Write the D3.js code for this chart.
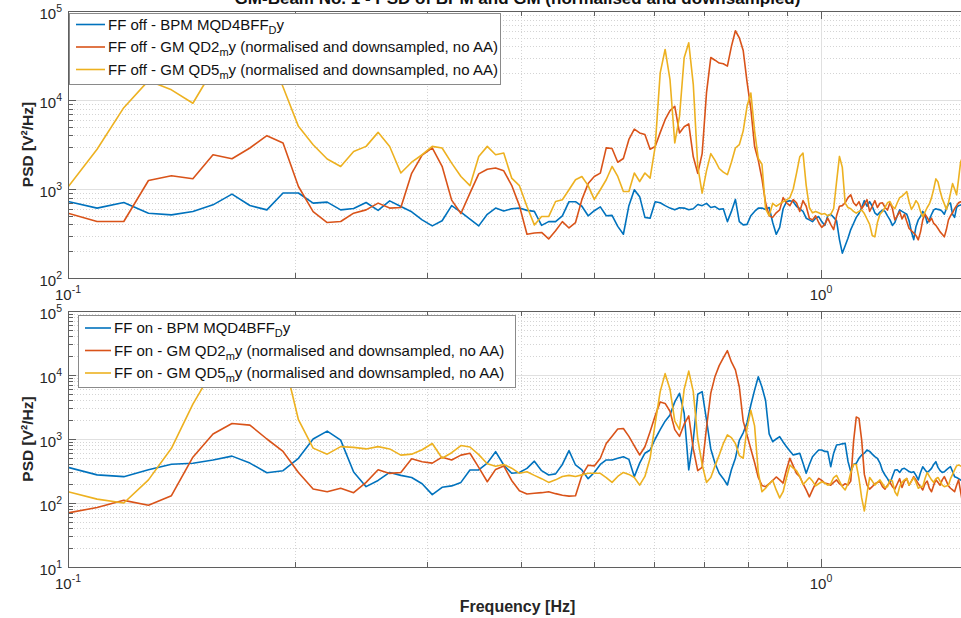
<!DOCTYPE html>
<html>
<head>
<meta charset="utf-8">
<script src="https://cdn.jsdelivr.net/npm/d3@7"></script>
<style>
  html, body { margin: 0; padding: 0; background: #fff; }
  svg { display: block; font-family: "Liberation Sans", Arial, Helvetica, sans-serif; }
</style>
</head>
<body>
<svg id="chart" width="961" height="618"></svg>
<script>
// PSD frequency bins [Hz]
const freqs = [
  0.1, 0.1093, 0.1186, 0.1279, 0.1372, 0.1465, 0.1558, 0.1651, 0.1744, 0.1837,
  0.193, 0.2023, 0.2116, 0.2209, 0.2302, 0.2395, 0.2488, 0.2581, 0.2674, 0.2767,
  0.286, 0.2953, 0.3046, 0.3139, 0.3232, 0.3325, 0.3418, 0.3511, 0.3604, 0.3697,
  0.379, 0.3883, 0.3976, 0.4069, 0.4162, 0.4255, 0.4348, 0.4441, 0.4534, 0.4627,
  0.472, 0.4813, 0.4906, 0.4999, 0.5092, 0.5185, 0.5278, 0.5371, 0.5464, 0.5557,
  0.565, 0.5743, 0.5836, 0.5929, 0.6022, 0.6115, 0.6208, 0.6301, 0.6394, 0.6487,
  0.658, 0.6673, 0.6766, 0.6859, 0.6952, 0.7045, 0.7138, 0.7231, 0.7324, 0.7417,
  0.751, 0.7603, 0.7696, 0.7789, 0.7882, 0.7975, 0.8068, 0.8161, 0.8254, 0.8347,
  0.844, 0.8533, 0.8626, 0.8719, 0.8812, 0.8905, 0.8998, 0.9091, 0.9184, 0.9277,
  0.937, 0.9463, 0.9556, 0.9649, 0.9742, 0.9835, 0.9928, 1.0021, 1.0114, 1.0207,
  1.03, 1.0393, 1.0486, 1.0579, 1.0672, 1.0765, 1.0858, 1.0951, 1.1044, 1.1137,
  1.123, 1.1323, 1.1416, 1.1509, 1.1602, 1.1695, 1.1788, 1.1881, 1.1974, 1.2067,
  1.216, 1.2253, 1.2346, 1.2439, 1.2532, 1.2625, 1.2718, 1.2811, 1.2904, 1.2997,
  1.309, 1.3183, 1.3276, 1.3369, 1.3462, 1.3555, 1.3648, 1.3741, 1.3834, 1.3927,
  1.402, 1.4113, 1.4206, 1.4299, 1.4392, 1.4485, 1.4578, 1.4671, 1.4764, 1.4857,
  1.495, 1.5043, 1.5136, 1.5229, 1.5322, 1.5415
];

// FF off
const offBPM = [
  723, 610, 705, 535, 512, 558, 664, 877, 652, 583,
  901, 901, 694, 712, 583, 603, 705, 574, 736, 635,
  555, 450, 385, 440, 650, 550, 460, 385, 520, 610,
  565, 600, 610, 575, 560, 390, 430, 430, 500, 720,
  720, 640, 500, 570, 630, 500, 505, 380, 310, 650,
  980, 820, 480, 470, 720, 700, 650, 610, 583, 615,
  610, 585, 600, 670, 650, 690, 620, 635, 590, 600,
  430, 560, 764, 430, 395, 400, 500, 560, 610, 610,
  590, 620, 420, 310, 370, 600, 720, 740, 720, 640,
  600, 560, 470, 450, 430, 470, 490, 430, 390, 500,
  520, 480, 440, 270, 190, 230, 280, 350, 410, 480,
  530, 620, 740, 640, 720, 640, 540, 510, 550, 580,
  560, 500, 450, 390, 420, 500, 583, 560, 540, 520,
  440, 330, 270, 380, 450, 490, 560, 520, 413, 450,
  520, 583, 600, 590, 583, 560, 520, 600, 680, 694,
  520, 480, 620, 650, 660, 670
];
const offQD2 = [
  535, 431, 431, 1246, 1408, 1303, 2427, 2188, 2888, 3974,
  3289, 1067, 558, 420, 431, 535, 583, 694, 610, 620,
  1500, 2400, 2900, 1800, 750, 530, 900, 1480, 1670, 1720,
  1600, 1100, 650, 310, 320, 325, 275, 340, 430, 365,
  420, 760, 1150, 1380, 1510, 2900, 2850, 2000, 2200, 3600,
  4700, 4270, 4100, 2800, 3000, 4300, 6000, 7600, 8500, 4270,
  5000, 5400, 2300, 1500, 2500, 12000, 30000, 28000, 26000, 25500,
  24000, 40000, 60000, 50000, 36000, 16000, 8000, 3000, 2100, 1300,
  700, 500, 480, 540, 583, 800, 700, 650, 760, 700,
  560, 740, 640, 470, 450, 500, 420, 370, 400, 470,
  400, 350, 500, 640, 650, 700, 800, 860, 700, 650,
  720, 600, 670, 760, 560, 640, 740, 620, 690, 700,
  620, 580, 700, 600, 450, 500, 560, 460, 520, 430,
  360, 340, 320, 300, 268, 330, 450, 520, 480, 430,
  470, 410, 390, 360, 330, 310, 290, 350, 450, 500,
  540, 600, 650, 700, 720, 700
];
const offQD5 = [
  1050, 2800, 8200, 16500, 13000, 9200, 22000, 45000, 60000, 40000,
  14000, 5058, 3145, 2173, 1792, 2644, 3013, 4329, 3000, 1511,
  2000, 2427, 3013, 2888, 1954, 1383, 1090, 2323, 3013, 2427,
  2535, 1326, 1090, 635, 395, 490, 490, 723, 756, 980,
  1270, 1383, 1090, 764, 980, 1270, 1792, 1383, 936, 936,
  1511, 1213, 1511, 1326, 3000, 20180, 36980, 16980, 3289, 6546,
  29790, 43950, 15000, 1800, 900, 1600, 2500, 2100, 1700, 1550,
  1450, 2000, 2888, 3145, 4500, 8500, 12000, 4500, 2200, 1900,
  600, 500, 690, 640, 680, 720, 756, 800, 1000, 1500,
  2300, 2535, 1100, 620, 540, 560, 540, 520, 530, 500,
  520, 600, 1200, 2323, 1750, 694, 620, 600, 560, 535,
  560, 580, 530, 460, 400, 300, 290, 420, 520, 560,
  620, 700, 723, 640, 600, 700, 800, 830, 880, 936,
  720, 590, 650, 740, 680, 560, 490, 550, 620, 680,
  800, 1000, 1300, 1200, 950, 780, 680, 590, 700, 900,
  1150, 1000, 860, 1300, 2000, 2300
];

// FF on
const onBPM = [
  361, 275, 258, 330, 404, 418, 470, 540, 420, 297,
  320, 500, 1000, 1330, 960, 305, 180, 225, 300, 270,
  250, 200, 135, 176, 185, 210, 328, 328, 420, 634,
  393, 291, 300, 348, 450, 320, 274, 285, 400, 657,
  393, 328, 240, 300, 400, 470, 470, 499, 529, 480,
  258, 420, 600, 673, 1000, 1400, 1900, 2371, 3800, 5176,
  2522, 328, 964, 5000, 5500, 1981, 700, 417, 291, 240,
  191, 330, 500, 950, 1250, 1800, 3400, 5800, 9400, 6500,
  4000, 1200, 907, 1000, 1086, 900, 758, 650, 562, 580,
  598, 420, 291, 400, 529, 600, 673, 673, 640, 634,
  369, 600, 806, 820, 840, 857, 450, 308, 400, 417,
  500, 562, 600, 673, 640, 580, 530, 499, 420, 320,
  274, 240, 203, 260, 328, 330, 300, 340, 348, 330,
  310, 300, 308, 270, 229, 300, 369, 330, 300, 320,
  348, 400, 442, 360, 320, 300, 308, 330, 350, 369,
  310, 258, 250, 240, 229, 225
];
const onQD2 = [
  70, 85, 110, 92, 130, 520, 1200, 1750, 1650, 1000,
  640, 300, 165, 150, 170, 145, 210, 330, 290, 300,
  490, 440, 420, 520, 470, 560, 598, 360, 215, 335,
  380, 225, 155, 138, 142, 145, 150, 140, 132, 128,
  130, 270, 390, 380, 500, 850, 1100, 1430, 1460, 1100,
  780, 562, 758, 1300, 2300, 3800, 3600, 2710, 1400, 1100,
  1700, 2300, 700, 320, 360, 1500, 5200, 9500, 14000, 18500,
  24000, 16000, 12000, 6500, 1900, 1150, 700, 430, 250, 188,
  180, 200, 225, 255, 230, 205, 330, 499, 380, 290,
  258, 200, 160, 125, 160, 203, 243, 225, 205, 200,
  190, 210, 229, 200, 185, 200, 190, 220, 900, 2200,
  2100, 960, 280, 190, 165, 180, 200, 210, 215, 180,
  165, 190, 210, 180, 165, 200, 240, 175, 220, 240,
  190, 220, 258, 230, 200, 180, 160, 200, 220, 170,
  150, 190, 230, 210, 190, 230, 258, 220, 185, 170,
  160, 150, 190, 230, 150, 100
];
const onQD5 = [
  150, 115, 100, 230, 715, 3500, 12000, 40000, 60000, 50000,
  20000, 2000, 720, 580, 760, 740, 700, 760, 700, 560,
  580, 680, 850, 500, 610, 790, 750, 570, 410, 375,
  400, 350, 291, 308, 270, 240, 210, 230, 260, 270,
  260, 275, 291, 291, 291, 250, 210, 260, 300, 280,
  250, 190, 260, 500, 1760, 5500, 10500, 6000, 1900, 1400,
  6000, 11500, 5500, 1000, 400, 210, 250, 380, 560, 850,
  1160, 1050, 850, 550, 500, 1500, 2800, 1600, 300, 150,
  170, 200, 225, 160, 120, 150, 250, 393, 350, 320,
  260, 195, 220, 250, 220, 185, 200, 215, 205, 190,
  200, 250, 270, 220, 180, 160, 200, 300, 400, 400,
  240, 120, 75, 140, 250, 220, 190, 210, 230, 200,
  175, 180, 230, 220, 150, 130, 180, 210, 230, 243,
  190, 220, 250, 210, 170, 180, 180, 240, 300, 260,
  230, 210, 240, 250, 220, 190, 180, 185, 190, 240,
  280, 330, 380, 393, 380, 370
];

// Legend entries: [text, subscript, text]
const offLabels = [
  ["FF off - BPM MQD4BFF", "D", "y"],
  ["FF off - GM QD2", "m", "y (normalised and downsampled, no AA)"],
  ["FF off - GM QD5", "m", "y (normalised and downsampled, no AA)"]
];
const onLabels = [
  ["FF on - BPM MQD4BFF", "D", "y"],
  ["FF on - GM QD2", "m", "y (normalised and downsampled, no AA)"],
  ["FF on - GM QD5", "m", "y (normalised and downsampled, no AA)"]
];

const titleText = "GM-Beam No. 1 - PSD of BPM and GM (normalised and downsampled)";
const yLabelText = "PSD [V\u00B2/Hz]";
const xLabelText = "Frequency [Hz]";
const xDomain = [0.1, 1.5625];
const xMajorExps = [-1, 0];
const topYExps = [2, 3, 4, 5];
const bottomYExps = [1, 2, 3, 4, 5];

const colors = ["#0072BD", "#D95319", "#EDB120"];

// ---------------------------------------------------------------
const svg = d3.select("#chart");
const defs = svg.append("defs");
svg.append("rect").attr("width", 961).attr("height", 618).attr("fill", "#fff");

const xLeft = 68, xRight = 967;
const x = d3.scaleLog().domain(xDomain).range([xLeft, xRight]);

const panels = [
  { top: 11, bottom: 278, exps: topYExps, series: [offBPM, offQD2, offQD5], labels: offLabels,
    legend: { x: 69, y: 13, w: 431, h: 71, lineX0: 76, lineX1: 105, textX: 108, rows: [24.5, 47, 69.5] } },
  { top: 311, bottom: 567, exps: bottomYExps, series: [onBPM, onQD2, onQD5], labels: onLabels,
    legend: { x: 78, y: 315, w: 437, h: 72, lineX0: 85, lineX1: 111, textX: 114, rows: [328, 350.5, 373] } }
];

const axisColor = "#5f5f5f";
const textColor = "#262626";

// minor x positions (2..9 × decade) inside the domain
const xMinor = [];
[0.1, 1].forEach(d => { for (let m = 2; m <= 9; m++) { const v = m * d; if (v < xDomain[1]) xMinor.push(v); } });
const xMajor = xMajorExps.map(e => Math.pow(10, e));

panels.forEach((p, i) => {
  const yLo = Math.pow(10, p.exps[0]), yHi = Math.pow(10, p.exps[p.exps.length - 1]);
  const y = d3.scaleLog().domain([yLo, yHi]).range([p.bottom, p.top]);
  const yMajor = p.exps.map(e => Math.pow(10, e));
  const yMinor = [];
  p.exps.slice(0, -1).forEach(e => { for (let m = 2; m <= 9; m++) yMinor.push(m * Math.pow(10, e)); });

  const clipId = "plotclip" + i;
  defs.append("clipPath").attr("id", clipId).append("rect")
    .attr("x", xLeft).attr("y", p.top).attr("width", xRight - xLeft).attr("height", p.bottom - p.top);

  const g = svg.append("g");

  // grid: minor dotted, major solid
  const grid = g.append("g");
  grid.selectAll("line.ymin").data(yMinor).join("line")
    .attr("x1", xLeft).attr("x2", xRight)
    .attr("y1", d => Math.round(y(d)) + 0.5).attr("y2", d => Math.round(y(d)) + 0.5)
    .attr("stroke", "#d4d4d4").attr("stroke-dasharray", "1,2").attr("stroke-width", 1);
  grid.selectAll("line.xmin").data(xMinor).join("line")
    .attr("y1", p.top).attr("y2", p.bottom)
    .attr("x1", d => Math.round(x(d)) + 0.5).attr("x2", d => Math.round(x(d)) + 0.5)
    .attr("stroke", "#d4d4d4").attr("stroke-dasharray", "1,2").attr("stroke-width", 1);
  grid.selectAll("line.ymaj").data(yMajor.slice(1, -1)).join("line")
    .attr("x1", xLeft).attr("x2", xRight)
    .attr("y1", d => Math.round(y(d)) + 0.5).attr("y2", d => Math.round(y(d)) + 0.5)
    .attr("stroke", "#e0e0e0").attr("stroke-width", 1);
  grid.selectAll("line.xmaj").data(xMajor.slice(1)).join("line")
    .attr("y1", p.top).attr("y2", p.bottom)
    .attr("x1", d => Math.round(x(d)) + 0.5).attr("x2", d => Math.round(x(d)) + 0.5)
    .attr("stroke", "#e0e0e0").attr("stroke-width", 1);

  // data lines
  const line = d3.line().x((d, k) => x(freqs[k])).y(d => y(d));
  const lines = g.append("g").attr("clip-path", `url(#${clipId})`);
  p.series.forEach((s, j) => {
    lines.append("path").datum(s)
      .attr("d", line)
      .attr("fill", "none")
      .attr("stroke", colors[j])
      .attr("stroke-width", 1.6)
      .attr("stroke-linejoin", "round");
  });

  // axes box and ticks
  const ax = g.append("g").attr("stroke", axisColor).attr("stroke-width", 1);
  ax.append("line").attr("x1", xLeft).attr("x2", xRight).attr("y1", p.top + 0.5).attr("y2", p.top + 0.5);
  ax.append("line").attr("x1", xLeft).attr("x2", xRight).attr("y1", p.bottom + 0.5).attr("y2", p.bottom + 0.5);
  ax.append("line").attr("x1", xLeft + 0.5).attr("x2", xLeft + 0.5).attr("y1", p.top).attr("y2", p.bottom + 1);

  const yTicks = yMajor.map(v => ({ v, len: 8 })).concat(yMinor.map(v => ({ v, len: 5 })));
  ax.selectAll("line.yt").data(yTicks).join("line")
    .attr("x1", xLeft).attr("x2", d => xLeft + d.len)
    .attr("y1", d => Math.round(y(d.v)) + 0.5).attr("y2", d => Math.round(y(d.v)) + 0.5);
  const xTicks = xMajor.map(v => ({ v, len: 8 })).concat(xMinor.map(v => ({ v, len: 5 })));
  ax.selectAll("line.xtb").data(xTicks).join("line")
    .attr("x1", d => Math.round(x(d.v)) + 0.5).attr("x2", d => Math.round(x(d.v)) + 0.5)
    .attr("y1", p.bottom).attr("y2", d => p.bottom - d.len);
  ax.selectAll("line.xtt").data(xTicks).join("line")
    .attr("x1", d => Math.round(x(d.v)) + 0.5).attr("x2", d => Math.round(x(d.v)) + 0.5)
    .attr("y1", p.top).attr("y2", d => p.top + d.len);

  // y tick labels 10^n
  p.exps.forEach(e => {
    const t = g.append("text")
      .attr("x", xLeft - 6).attr("y", y(Math.pow(10, e)) + 7.5)
      .attr("text-anchor", "end").attr("fill", textColor).attr("font-size", 15);
    t.append("tspan").text("10");
    t.append("tspan").attr("dy", -7).attr("font-size", 10.5).text(String(e));
  });

  // x tick labels 10^n
  xMajorExps.forEach(e => {
    const t = g.append("text")
      .attr("x", x(Math.pow(10, e))).attr("y", p.bottom + 22)
      .attr("text-anchor", "middle").attr("fill", textColor).attr("font-size", 15);
    t.append("tspan").text("10");
    t.append("tspan").attr("dy", -7).attr("font-size", 10.5).text(String(e));
  });

  // y axis label
  g.append("text")
    .attr("transform", `translate(33,${(p.top + p.bottom) / 2}) rotate(-90)`)
    .attr("text-anchor", "middle").attr("font-weight", "bold")
    .attr("font-size", 15.5).attr("fill", textColor)
    .text(yLabelText);

  // legend
  const L = p.legend;
  const lg = g.append("g");
  lg.append("rect").attr("x", L.x + 0.5).attr("y", L.y + 0.5).attr("width", L.w).attr("height", L.h)
    .attr("fill", "#fff").attr("stroke", "#8a8a8a").attr("stroke-width", 1);
  p.labels.forEach((lab, j) => {
    const ry = L.rows[j];
    lg.append("line").attr("x1", L.lineX0).attr("x2", L.lineX1).attr("y1", ry).attr("y2", ry)
      .attr("stroke", colors[j]).attr("stroke-width", 1.6);
    const t = lg.append("text").attr("x", L.textX).attr("y", ry + 5)
      .attr("font-size", 15).attr("fill", "#111");
    t.append("tspan").text(lab[0]);
    t.append("tspan").attr("dy", 4).attr("font-size", 11).text(lab[1]);
    t.append("tspan").attr("dy", -4).attr("font-size", 15).text(lab[2]);
  });
});

// title (figure top) and x label
svg.append("text")
  .attr("x", (xLeft + xRight) / 2).attr("y", 3.5)
  .attr("text-anchor", "middle").attr("font-weight", "bold").attr("font-size", 17)
  .attr("fill", "#111").text(titleText);

svg.append("text")
  .attr("x", (xLeft + xRight) / 2).attr("y", 612)
  .attr("text-anchor", "middle").attr("font-weight", "bold").attr("font-size", 16)
  .attr("fill", textColor).text(xLabelText);
</script>
</body>
</html>
